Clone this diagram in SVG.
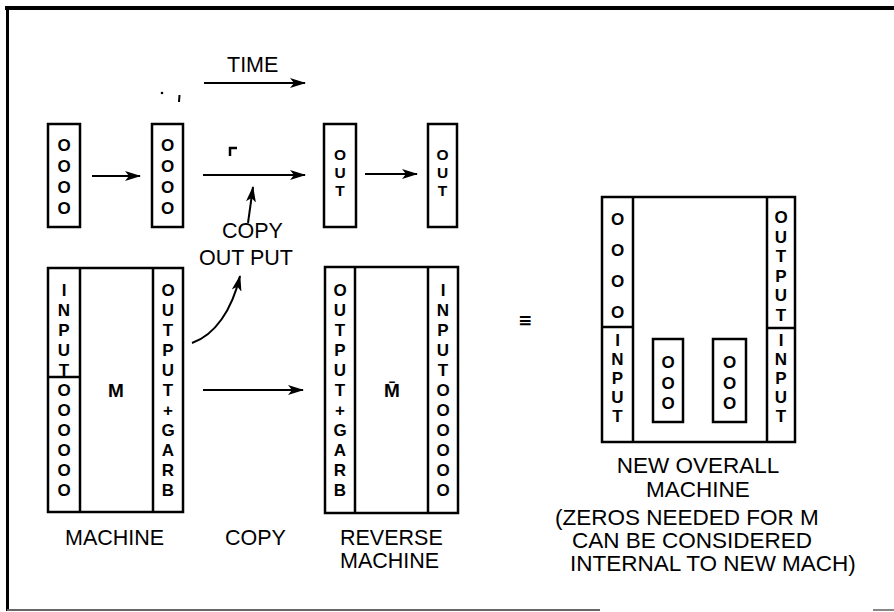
<svg xmlns="http://www.w3.org/2000/svg" width="894" height="612" viewBox="0 0 894 612">
<style>
.box{fill:none;stroke:#000;stroke-width:2.5}
.ln{fill:none;stroke:#000;stroke-width:2}
.lbl{font-family:"Liberation Sans",Arial,sans-serif;font-size:21.5px;fill:#000}
.lbl2{font-family:"Liberation Sans",Arial,sans-serif;font-size:22.5px;fill:#000}
.col{font-family:"Liberation Sans",Arial,sans-serif;font-size:17px;font-weight:bold;text-anchor:middle;fill:#000}
.out{font-family:"Liberation Sans",Arial,sans-serif;font-size:15.5px;font-weight:bold;text-anchor:middle;fill:#000}
.big{font-family:"Liberation Sans",Arial,sans-serif;font-size:19px;font-weight:bold;text-anchor:middle;fill:#000}
</style>
<defs>
<marker id="ah" markerUnits="userSpaceOnUse" markerWidth="16" markerHeight="10" refX="15" refY="5" orient="auto">
<path d="M0,0 L16,5 L0,10 L4,5 z" fill="#000"/>
</marker>
</defs>
<rect width="894" height="612" fill="#fff"/>
<g id="frame">
<line x1="5" y1="8" x2="894" y2="8" stroke="#000" stroke-width="4"/>
<line x1="7.5" y1="6" x2="7.5" y2="611" stroke="#000" stroke-width="3"/>
<line x1="7" y1="610" x2="600" y2="610" stroke="#666" stroke-width="2"/>
<line x1="873" y1="610" x2="894" y2="610" stroke="#888" stroke-width="2"/>
</g>
<g id="marks">
<circle cx="162" cy="93" r="1.3" fill="#000"/>
<line x1="179.5" y1="95" x2="179" y2="102" stroke="#000" stroke-width="2"/>
<path d="M230,156 V148 H237" fill="none" stroke="#000" stroke-width="2.5"/>
</g>
<g id="tape1">
<rect class="box" x="48" y="124" width="32" height="103"/>
<text class="col" x="64" y="151">O<tspan x="64" dy="21">O</tspan><tspan x="64" dy="21">O</tspan><tspan x="64" dy="21">O</tspan></text>
</g>
<g id="tape2">
<rect class="box" x="152" y="124" width="31" height="103"/>
<text class="col" x="167.5" y="151">O<tspan x="167.5" dy="21">O</tspan><tspan x="167.5" dy="21">O</tspan><tspan x="167.5" dy="21">O</tspan></text>
</g>
<g id="tape3">
<rect class="box" x="324" y="124" width="32" height="103"/>
<text class="out" x="340" y="160">O<tspan x="340" dy="18">U</tspan><tspan x="340" dy="18">T</tspan></text>
</g>
<g id="tape4">
<rect class="box" x="428" y="124" width="29" height="103"/>
<text class="out" x="442.5" y="160">O<tspan x="442.5" dy="18">U</tspan><tspan x="442.5" dy="18">T</tspan></text>
</g>
<g id="time">
<text class="lbl" x="227" y="72">TIME</text>
</g>
<g id="copyout">
<text class="lbl" x="222" y="238">COPY</text>
<text class="lbl" x="199" y="265">OUT PUT</text>
</g>
<g id="machine">
<rect class="box" x="48" y="268" width="135" height="244"/>
<line class="box" x1="80" y1="268" x2="80" y2="512"/>
<line class="box" x1="153" y1="268" x2="153" y2="512"/>
<line class="box" x1="48" y1="377" x2="80" y2="377"/>
<text class="col" x="64" y="296">I<tspan x="64" dy="20">N</tspan><tspan x="64" dy="20">P</tspan><tspan x="64" dy="20">U</tspan><tspan x="64" dy="20">T</tspan><tspan x="64" dy="20">O</tspan><tspan x="64" dy="20">O</tspan><tspan x="64" dy="20">O</tspan><tspan x="64" dy="20">O</tspan><tspan x="64" dy="20">O</tspan><tspan x="64" dy="20">O</tspan></text>
<text class="col" x="168" y="296">O<tspan x="168" dy="20">U</tspan><tspan x="168" dy="20">T</tspan><tspan x="168" dy="20">P</tspan><tspan x="168" dy="20">U</tspan><tspan x="168" dy="20">T</tspan><tspan x="168" dy="20">+</tspan><tspan x="168" dy="20">G</tspan><tspan x="168" dy="20">A</tspan><tspan x="168" dy="20">R</tspan><tspan x="168" dy="20">B</tspan></text>
<text class="big" x="116" y="397">M</text>
</g>
<g id="reverse">
<rect class="box" x="325" y="267" width="133" height="246"/>
<line class="box" x1="355" y1="267" x2="355" y2="513"/>
<line class="box" x1="428" y1="267" x2="428" y2="513"/>
<text class="col" x="340" y="296">O<tspan x="340" dy="20">U</tspan><tspan x="340" dy="20">T</tspan><tspan x="340" dy="20">P</tspan><tspan x="340" dy="20">U</tspan><tspan x="340" dy="20">T</tspan><tspan x="340" dy="20">+</tspan><tspan x="340" dy="20">G</tspan><tspan x="340" dy="20">A</tspan><tspan x="340" dy="20">R</tspan><tspan x="340" dy="20">B</tspan></text>
<text class="col" x="443" y="296">I<tspan x="443" dy="20">N</tspan><tspan x="443" dy="20">P</tspan><tspan x="443" dy="20">U</tspan><tspan x="443" dy="20">T</tspan><tspan x="443" dy="20">O</tspan><tspan x="443" dy="20">O</tspan><tspan x="443" dy="20">O</tspan><tspan x="443" dy="20">O</tspan><tspan x="443" dy="20">O</tspan><tspan x="443" dy="20">O</tspan></text>
<text class="big" x="392" y="397">M̄</text>
</g>
<g id="labels">
<text class="lbl" x="65" y="545">MACHINE</text>
<text class="lbl" x="225" y="545">COPY</text>
<text class="lbl" x="340" y="545">REVERSE</text>
<text class="lbl" x="340" y="568">MACHINE</text>
</g>
<g id="equiv">
<text x="525" y="326" font-family="DejaVu Sans,sans-serif" font-size="17" font-weight="bold" text-anchor="middle">≡</text>
</g>
<g id="newmachine">
<rect class="box" x="602" y="197" width="193" height="245"/>
<line class="box" x1="633" y1="197" x2="633" y2="442"/>
<line class="box" x1="767" y1="197" x2="767" y2="442"/>
<line class="box" x1="602" y1="327" x2="633" y2="327"/>
<line class="box" x1="767" y1="328" x2="795" y2="328"/>
<text class="col" x="617.5" y="225">O<tspan x="617.5" dy="31">O</tspan><tspan x="617.5" dy="31">O</tspan><tspan x="617.5" dy="31">O</tspan></text>
<text class="col" x="617.5" y="346">I<tspan x="617.5" dy="19">N</tspan><tspan x="617.5" dy="19">P</tspan><tspan x="617.5" dy="19">U</tspan><tspan x="617.5" dy="19">T</tspan></text>
<text class="col" x="781" y="223">O<tspan x="781" dy="19.6">U</tspan><tspan x="781" dy="19.6">T</tspan><tspan x="781" dy="19.6">P</tspan><tspan x="781" dy="19.6">U</tspan><tspan x="781" dy="19.6">T</tspan></text>
<text class="col" x="781" y="346">I<tspan x="781" dy="19">N</tspan><tspan x="781" dy="19">P</tspan><tspan x="781" dy="19">U</tspan><tspan x="781" dy="19">T</tspan></text>
</g>
<g id="inner1">
<rect class="box" x="653" y="339" width="30" height="83"/>
<text class="col" x="668" y="368">O<tspan x="668" dy="20.5">O</tspan><tspan x="668" dy="20.5">O</tspan></text>
</g>
<g id="inner2">
<rect class="box" x="713" y="339" width="33" height="83"/>
<text class="col" x="729.5" y="368">O<tspan x="729.5" dy="20.5">O</tspan><tspan x="729.5" dy="20.5">O</tspan></text>
</g>
<g id="newlabels">
<text class="lbl2" x="698" y="473" text-anchor="middle">NEW OVERALL</text>
<text class="lbl2" x="698" y="497" text-anchor="middle">MACHINE</text>
<text class="lbl2" x="555" y="525">(ZEROS NEEDED FOR M</text>
<text class="lbl2" x="572" y="548">CAN BE CONSIDERED</text>
<text class="lbl2" x="570" y="571">INTERNAL TO NEW MACH)</text>
</g>
<g id="connectors">
<line class="ln" x1="204" y1="83" x2="305" y2="83" marker-end="url(#ah)"/>
<line class="ln" x1="92" y1="176" x2="140" y2="176" marker-end="url(#ah)"/>
<line class="ln" x1="203" y1="175" x2="305" y2="175" marker-end="url(#ah)"/>
<line class="ln" x1="365" y1="174" x2="417" y2="174" marker-end="url(#ah)"/>
<line class="ln" x1="248" y1="223" x2="253" y2="187" marker-end="url(#ah)"/>
<path class="ln" d="M192,343 C215,335 232,310 240,276" marker-end="url(#ah)"/>
<line class="ln" x1="203" y1="390" x2="303" y2="390" marker-end="url(#ah)"/>
</g>
</svg>
